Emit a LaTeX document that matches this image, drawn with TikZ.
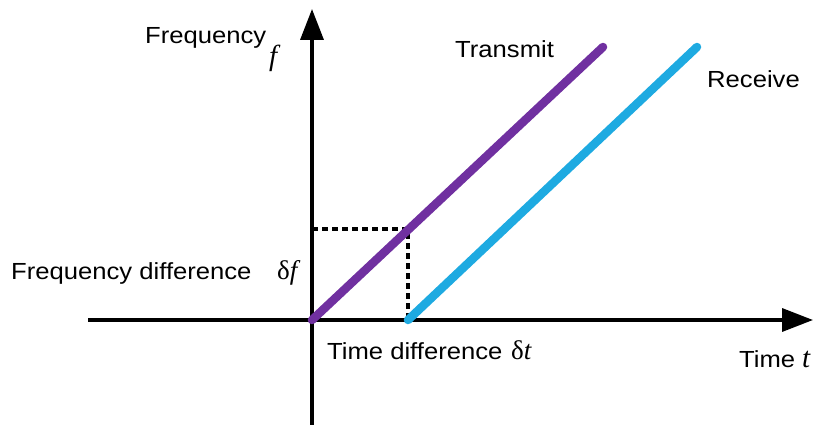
\documentclass[tikz,border=0pt]{standalone}
\usepackage{fontspec}
\setmainfont{Liberation Sans}[FakeStretch=1.1]
\newfontfamily\serfont{Liberation Serif}
\usetikzlibrary{arrows.meta}
\definecolor{txpurple}{RGB}{112,48,160}
\definecolor{rxblue}{RGB}{30,170,225}
\begin{document}
\begin{tikzpicture}[x=1pt,y=-1pt,
  axis/.style={line width=3.5pt,-{Triangle[length=31pt,width=23pt]}},
  sig/.style={line width=8.5pt,line cap=round},
  guide/.style={line width=3.5pt,dash pattern=on 6pt off 4pt},
  lbl/.style={font=\fontsize{23.3}{26}\selectfont,inner sep=0pt,anchor=base west},
  sym/.style={font=\serfont\itshape\fontsize{29}{30}\selectfont,inner sep=0pt,anchor=base west}]
\useasboundingbox (0,0) rectangle (814,425);
\coordinate (ybot) at (312,425);
\coordinate (ytop) at (312,9);
\coordinate (xl) at (88,320);
\coordinate (xr) at (813,320);
\coordinate (o) at (312,320);
\coordinate (ts) at (603,47);
\coordinate (r0) at (408,320);
\coordinate (re) at (697,47);
\coordinate (m) at (408,229);
\coordinate (my) at (312,229);
\draw[axis] (xl) -- (xr);
\draw[axis] (ybot) -- (ytop);
\draw[guide] (my) -- (m) -- (r0);
\draw[sig,txpurple] (o) -- (ts);
\draw[sig,rxblue] (r0) -- (re);
\node[lbl] (fl) at (145,44) {Frequency};
\node[sym] (fs) at (269,66) {f};
\node[lbl] (tr) at (455,58) {Transmit};
\node[lbl] (rc) at (707,88) {Receive};
\node[lbl] (fd) at (11,279) {Frequency difference};
\node[sym,font=\serfont\fontsize{27}{28}\selectfont] (dfs) at (277,279) {δ\textit{f}};
\node[lbl] (td) at (327,359) {Time difference};
\node[sym,font=\serfont\fontsize{27}{28}\selectfont] (dts) at (511,359) {δ\textit{t}};
\node[lbl] (tl) at (739,367) {Time};
\node[sym] (ts2) at (802,367) {t};
\end{tikzpicture}
\end{document}
